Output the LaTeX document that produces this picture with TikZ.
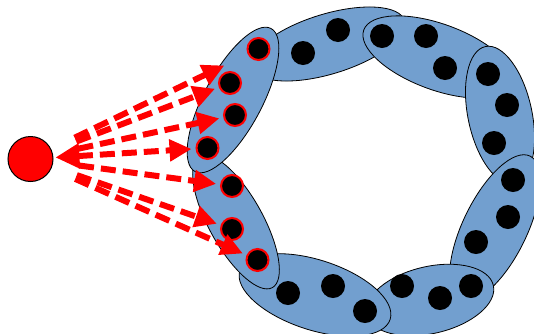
\documentclass[tikz,border=0pt]{standalone}
\usetikzlibrary{shapes.geometric,arrows.meta}
\definecolor{cellblue}{RGB}{114,159,207}
\begin{document}
\begin{tikzpicture}[x=1pt,y=-1pt,
  cell/.style={ellipse,draw=black,line width=0.8pt,fill=cellblue,inner sep=0pt},
  blackdot/.style={circle,fill=black,minimum size=24pt,inner sep=0pt},
  reddot/.style={circle,fill=black,draw=red,line width=2pt,minimum size=22pt,inner sep=0pt},
  source/.style={circle,fill=red,draw=black,line width=1pt,minimum size=45pt,inner sep=0pt},
  signal/.style={draw=red,line width=6pt,line cap=butt,dash pattern=on 15pt off 7pt,
    -{Triangle[length=22pt,width=21pt]},
    shorten <=26pt,shorten >=4pt},
  signalboth/.style={signal,{Triangle[length=24pt,width=24pt]}-{Triangle[length=22pt,width=21pt]},shorten <=2pt}
]
\useasboundingbox (0,0) rectangle (534,333);
% cells, back to front
\node[cell,minimum width=160pt,minimum height=60pt,rotate=17] (c8) at (328,44) {};
\node[blackdot] (b81) at (303,53) {};
\node[blackdot] (b82) at (338,30) {};
\node[cell,minimum width=158pt,minimum height=66pt,rotate=-20] (c7) at (438,57) {};
\node[blackdot] (b71) at (382,36) {};
\node[blackdot] (b72) at (426,36) {};
\node[blackdot] (b73) at (445,68) {};
\node[cell,minimum width=140pt,minimum height=64pt,rotate=102] (c6) at (500,115) {};
\node[blackdot] (b61) at (488,74) {};
\node[blackdot] (b62) at (507,105) {};
\node[blackdot] (b63) at (494,143) {};
\node[cell,minimum width=160pt,minimum height=64pt,rotate=64] (c5) at (495,228) {};
\node[blackdot] (b51) at (513,180) {};
\node[blackdot] (b52) at (508,217) {};
\node[blackdot] (b53) at (476,242) {};
\node[cell,minimum width=130pt,minimum height=67pt,rotate=13] (c4) at (430,300) {};
\node[blackdot] (b41) at (402,286) {};
\node[blackdot] (b42) at (440,298) {};
\node[blackdot] (b43) at (471,286) {};
\node[cell,minimum width=158pt,minimum height=70pt,rotate=-18] (c3) at (315,295) {};
\node[blackdot] (b31) at (288,293) {};
\node[blackdot] (b32) at (333,286) {};
\node[blackdot] (b33) at (365,311) {};
\node[cell,minimum width=150pt,minimum height=54pt,rotate=-61] (c2) at (236,222) {};
\node[reddot] (d5) at (232,186) {};
\node[reddot] (d6) at (232,229) {};
\node[reddot] (d7) at (257.5,260) {};
\node[cell,minimum width=162pt,minimum height=58pt,rotate=62] (c1) at (233,100) {};
\node[reddot] (d1) at (258.5,49) {};
\node[reddot] (d2) at (230,83) {};
\node[reddot] (d3) at (235,115) {};
\node[reddot] (d4) at (207.5,148) {};
% source
\node[source] (src) at (30.5,159) {};
% signals
\draw[signal,shorten >=26pt] (src) -- (d1);
\draw[signal] (src) -- (d2);
\draw[signal] (src) -- (d3);
\draw[signalboth] (src) -- (d4);
\draw[signal] (src) -- (d5);
\draw[signal] (src) -- (d6);
\draw[signal] (src) -- (d7);
\end{tikzpicture}
\end{document}
